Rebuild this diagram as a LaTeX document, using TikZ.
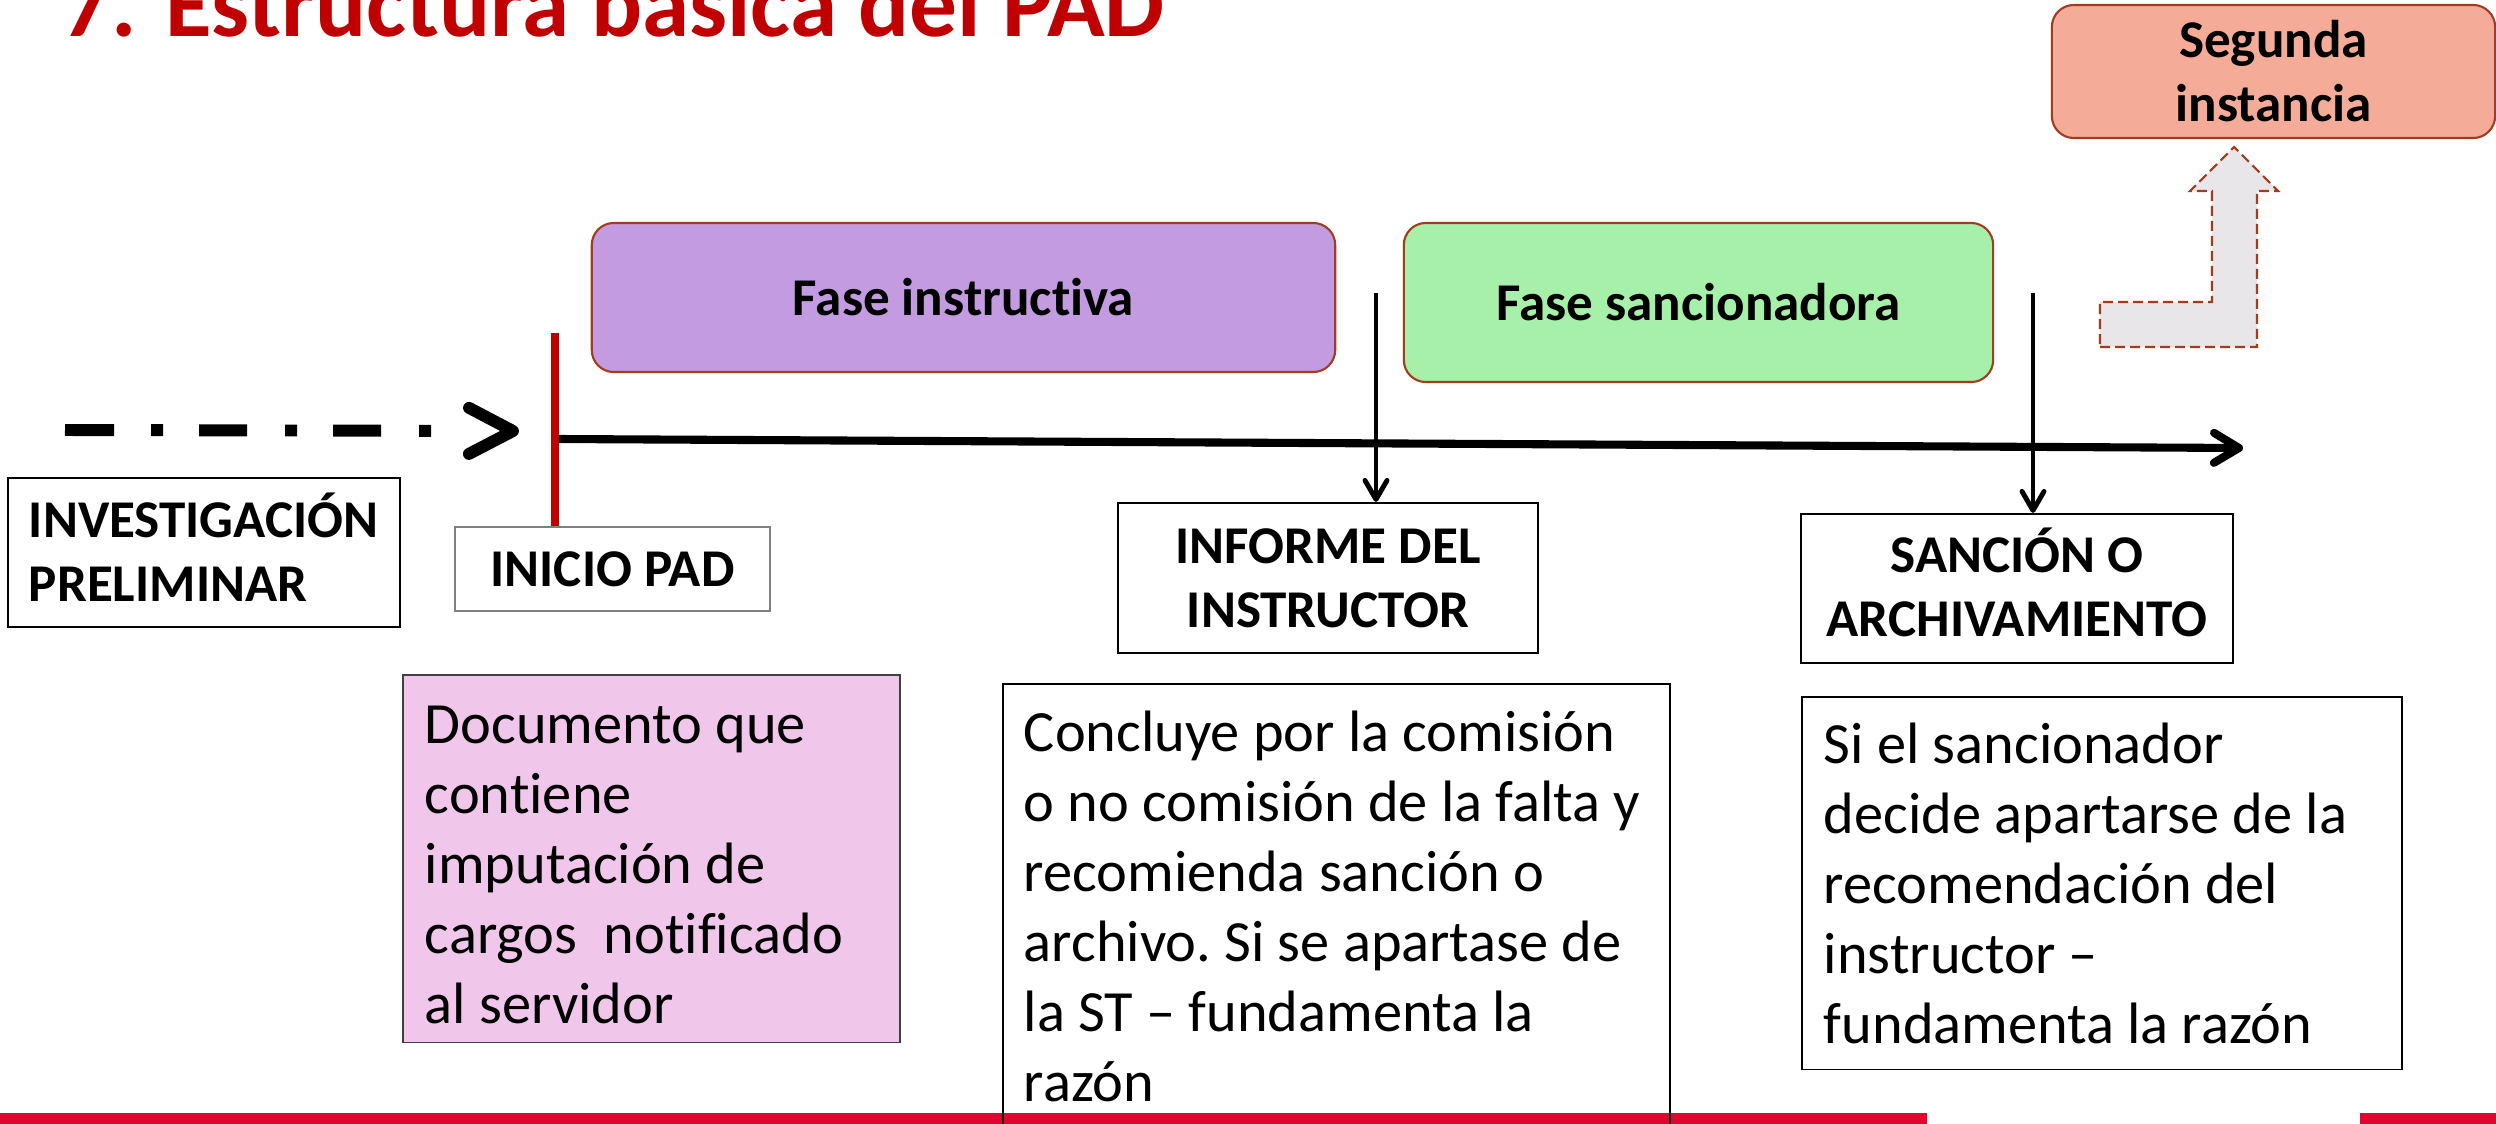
\documentclass[tikz,border=0pt]{standalone}
\usepackage{fontspec}
\setmainfont{Carlito}[Ligatures=CommonOff]
\usetikzlibrary{arrows.meta}

\definecolor{rojotitulo}{HTML}{C00000}
\definecolor{barra}{HTML}{E4032E}
\definecolor{borde}{HTML}{A33B1C}
\definecolor{lila}{HTML}{C39BE0}
\definecolor{verde}{HTML}{A7F0AA}
\definecolor{salmon}{HTML}{F4AC99}
\definecolor{rosa}{HTML}{F0C6EB}
\definecolor{gris}{HTML}{E8E6E8}

\newcommand{\etiq}{\fontsize{15.1}{18.2}\selectfont\bfseries}
\newcommand{\cuerpo}{\fontsize{16.6}{19.9}\selectfont\frenchspacing}

\tikzset{
	fase/.style={draw=borde, line width=0.6pt, rounded corners=0.22cm, font=\etiq, align=center},
	hito/.style={draw, line width=0.6pt, font=\etiq, align=center},
	nota/.style={draw, line width=0.5pt, font=\cuerpo, align=flush left, anchor=north west, inner xsep=0.22cm, inner ysep=0.22cm},
	flecha/.style={line width=1.4pt, -{Straight Barb[round, length=0.19cm, width=0.22cm]}},
}

\begin{document}
\begin{tikzpicture}[x=0.01cm, y=-0.01cm]
	\useasboundingbox (0, 0) rectangle (2496, 1124);
	\clip (0, 0) rectangle (2496, 1124);

	\fill[barra] (0, 1113) rectangle (1927, 1124);
	\fill[barra] (2360, 1113) rectangle (2496, 1124);

	\node[anchor=base west, inner sep=0, text=rojotitulo, font=\fontsize{27.1}{32}\selectfont\bfseries] (titulo) at (62, 36) {7. Estructura básica del PAD};

	\node[fase, fill=lila, minimum width=7.43cm, minimum height=1.49cm] (instr) at (963.5, 297.5) {Fase instructiva};
	\node[fase, fill=verde, minimum width=5.89cm, minimum height=1.59cm] (sanc) at (1698.5, 302.5) {Fase sancionadora};
	\node[fase, fill=salmon, minimum width=4.43cm, minimum height=1.33cm] (segunda) at (2273.5, 71.5) {Segunda\\instancia};

	\node[hito, align=flush left, text width=3.5cm, text height=0.34cm, minimum height=1.49cm, inner xsep=0.21cm] (inv) at (204, 552.5) {INVESTIGACIÓN\\PRELIMINAR};
	\node[hito, draw=gray, minimum width=3.15cm, minimum height=0.84cm] (inicio) at (612.5, 569) {INICIO PAD};
	\node[hito, minimum width=4.2cm, minimum height=1.5cm] (informe) at (1328, 578) {INFORME DEL\\INSTRUCTOR};
	\node[hito, align=flush center, text width=4.0cm, text height=0.33cm, minimum width=4.32cm, minimum height=1.49cm] (sancion) at (2017, 588.5) {SANCIÓN O\\ARCHIVAMIENTO};

	\node[nota, fill=rosa, draw=darkgray, text width=4.53cm, inner ysep=0.31cm, text depth=2.68cm] (doc) at (402, 674) {Documento que\\contiene\\imputación de\\cargos\ \ notificado\\al servidor};
	\node[nota, text width=6.25cm, inner xsep=0.21cm, inner ysep=0.27cm, text depth=4.4cm] (concl) at (1002, 683) {Concluye~por~la~comisión\\o~no~comisión~de~la~falta~y\\recomienda sanción o\\archivo.~Si~se~apartase~de\\la ST – fundamenta la\\razón};
	\node[nota, text width=5.56cm, inner ysep=0.26cm, text depth=2.8cm] (siel) at (1801, 696) {Si el sancionador\\decide apartarse de la\\recomendación del\\instructor –\\fundamenta la razón};

	\coordinate (previa) at (65, 430);
	\coordinate (entrada) at (519, 431);
	\draw[line width=3.4pt, dash pattern=on 0.49cm off 0.37cm on 0.12cm off 0.36cm on 0.48cm off 0.38cm on 0.12cm off 0.36cm on 0.48cm off 0.38cm on 0.12cm off 2cm, -{Straight Barb[round, length=0.44cm, width=0.46cm]}] (previa) -- (entrada);

	\coordinate (marca) at (555, 333);
	\draw[rojotitulo, line width=2pt] (marca) -- (inicio.north -| marca);

	\coordinate (t0) at (559, 439);
	\coordinate (t1) at (2243, 448);
	\draw[line width=2.3pt, -{Straight Barb[round, length=0.25cm, width=0.3cm]}] (t0) -- (t1);

	\coordinate (c1) at (1376, 293);
	\coordinate (c2) at (2033, 293);
	\draw[flecha] (c1) -- (informe.north -| c1);
	\draw[flecha] (c2) -- (sancion.north -| c2);

	\draw[draw=borde, fill=gris, line width=0.6pt, dash pattern=on 0.1cm off 0.05cm] (2100, 347) -- (2257, 347) -- (2257, 191) -- (2278, 191) -- (2234, 147) -- (2190, 191) -- (2212, 191) -- (2212, 302) -- (2100, 302) -- cycle;
\end{tikzpicture}
\end{document}
